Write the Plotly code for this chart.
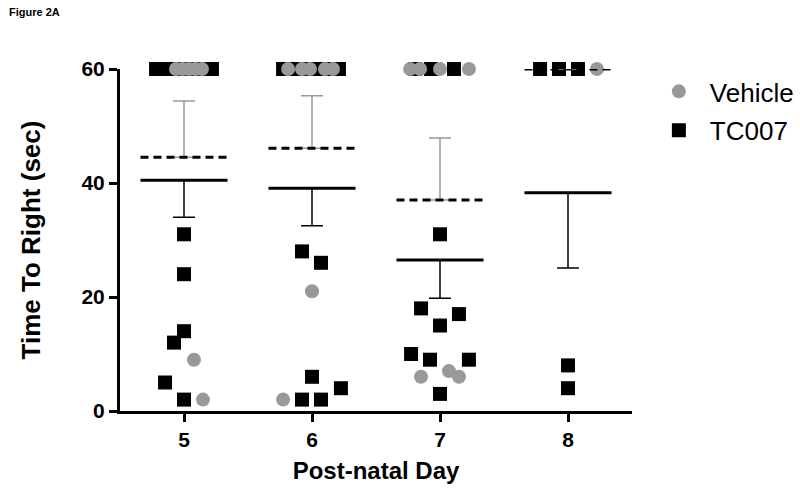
import plotly.graph_objects as go

# ---------------- data ----------------
days = [5, 6, 7, 8]
day_labels = ["5", "6", "7", "8"]

vehicle_values = [
    [60, 60, 60, 60, 60, 9, 2],
    [60, 60, 60, 60, 60, 21, 2],
    [60, 60, 60, 60, 7, 6, 6],
    [60],
]
tc007_values = [
    [60, 60, 60, 60, 60, 60, 60, 60, 31, 24, 14, 12, 5, 2],
    [60, 60, 60, 60, 60, 60, 60, 60, 28, 26, 6, 4, 2, 2],
    [60, 60, 60, 31, 18, 17, 15, 10, 9, 9, 3],
    [60, 60, 60, 8, 4],
]

vehicle_mean = [44.5, 46.1, 37.0, 60.0]
vehicle_sem = [9.9, 9.2, 10.9, 0.0]
tc007_mean = [40.5, 39.1, 26.5, 38.3]
tc007_sem = [6.5, 6.6, 6.7, 13.2]

# ---------------- layout of the scatter (horizontal spread, px) ----------------
PX_PER_DAY = 128.3
vehicle_spread_px = [
    [-8, -1.5, 5, 11.5, 18, 10, 19],
    [-24, -10, -2, 13, 21, 0, -29],
    [-30, -20, 0, 29, 9, -19, 19],
    [29],
]
tc007_spread_px = [
    [-28, -20, -12, -4, 4, 12, 20, 28, 0, 0, 0, -10, -19, 0],
    [-29, -21, -13, -5, 3, 11, 19, 27, -10, 9, 0, 29, -10, 9],
    [-25, -9, 14, 0, -19, 19, 0, -29, -10, 29, 0],
    [-28, -9, 10, 0, 0],
]
MEAN_HALF = 0.34

FONT = "Liberation Sans, Arial, sans-serif"
GRAY = "#999999"


def flatten(values, spread):
    xs, ys = [], []
    for d, vals, offs in zip(days, values, spread):
        for v, o in zip(vals, offs):
            xs.append(d + o / PX_PER_DAY)
            ys.append(v)
    return xs, ys


def mean_segments(means):
    xs, ys = [], []
    for d, m in zip(days, means):
        xs += [d - MEAN_HALF, d + MEAN_HALF, None]
        ys += [m, m, None]
    return xs, ys


fig = go.Figure()

tx, ty = flatten(tc007_values, tc007_spread_px)
vx, vy = flatten(vehicle_values, vehicle_spread_px)

fig.add_trace(go.Scatter(
    x=tx, y=ty, mode="markers", name="TC007", legendrank=2,
    legendgroup="t",
    marker=dict(symbol="square", size=14, color="black", line=dict(width=0)),
    cliponaxis=False,
))
fig.add_trace(go.Scatter(
    x=vx, y=vy, mode="markers", name="Vehicle", legendrank=1,
    legendgroup="v",
    marker=dict(symbol="circle", size=14, color=GRAY, line=dict(width=0)),
    cliponaxis=False,
))

# error bars (one-sided, SEM)
fig.add_trace(go.Scatter(
    x=days, y=vehicle_mean, mode="markers", showlegend=False,
    marker=dict(size=1, color="rgba(0,0,0,0)"),
    error_y=dict(type="data", symmetric=False, array=vehicle_sem,
                 arrayminus=[0] * 4, color=GRAY, thickness=1.5, width=11),
    cliponaxis=False,
))
fig.add_trace(go.Scatter(
    x=days, y=tc007_mean, mode="markers", showlegend=False,
    marker=dict(size=1, color="rgba(0,0,0,0)"),
    error_y=dict(type="data", symmetric=False, array=[0] * 4,
                 arrayminus=tc007_sem, color="black", thickness=1.5, width=11),
    cliponaxis=False,
))

# mean lines
mx, my = mean_segments(vehicle_mean)
fig.add_trace(go.Scatter(
    x=mx, y=my, mode="lines", showlegend=False,
    line=dict(color="black", width=3, dash="8px,5px"),
    cliponaxis=False,
))
mx, my = mean_segments(tc007_mean)
fig.add_trace(go.Scatter(
    x=mx, y=my, mode="lines", showlegend=False,
    line=dict(color="black", width=3),
    cliponaxis=False,
))

fig.update_layout(
    width=800, height=491,
    margin=dict(l=120, r=168, t=69, b=80, autoexpand=False),
    paper_bgcolor="white", plot_bgcolor="white",
    font=dict(family=FONT, color="black"),
    showlegend=True,
    legend=dict(
        x=1.031, y=1.003, xanchor="left", yanchor="top",
        font=dict(size=26, family=FONT, color="black"),
        tracegroupgap=2, itemsizing="trace", itemwidth=52,
        bgcolor="rgba(0,0,0,0)",
    ),
    xaxis=dict(
        range=[4.5, 8.5], tickmode="array", tickvals=days, ticktext=day_labels,
        showgrid=False, zeroline=False, showline=True, linecolor="black",
        linewidth=3, ticks="outside", ticklen=8, tickwidth=3, tickcolor="black",
        tickfont=dict(size=21, family=FONT, weight="bold"),
        title=dict(text="Post-natal Day", font=dict(size=24, family=FONT, weight="bold"),
                   standoff=12),
    ),
    yaxis=dict(
        range=[0, 60], tickmode="array", tickvals=[0, 20, 40, 60],
        showgrid=False, zeroline=False, showline=True, linecolor="black",
        linewidth=3, ticks="outside", ticklen=8, tickwidth=3, tickcolor="black",
        tickfont=dict(size=21, family=FONT, weight="bold"),
        title=dict(text="Time To Right (sec)", font=dict(size=26, family=FONT, weight="bold"),
                   standoff=34),
    ),
    annotations=[dict(
        text="<b>Figure 2A</b>", xref="paper", yref="paper",
        x=-0.22, y=1.167, xanchor="left", yanchor="middle",
        showarrow=False, font=dict(size=11, family=FONT, color="black"),
    )],
)

fig.write_html("out.html", config={"displayModeBar": False},
               post_script="document.body.style.margin='0';document.documentElement.style.margin='0';")
